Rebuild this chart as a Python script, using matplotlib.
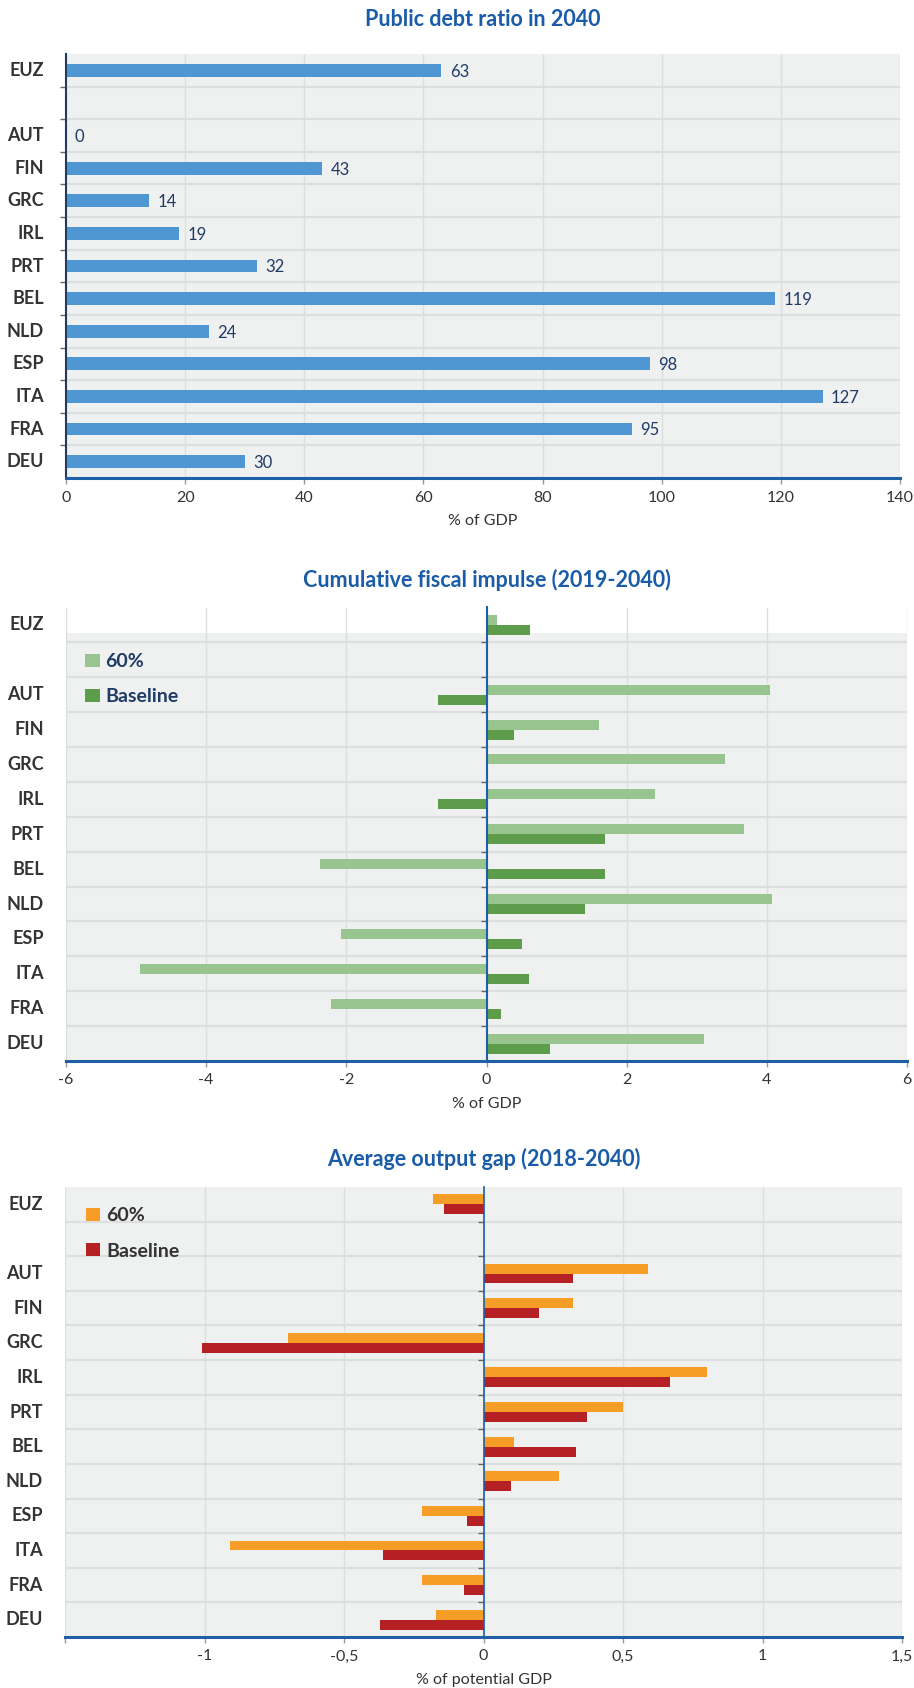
import matplotlib
matplotlib.use('Agg')
import matplotlib.pyplot as plt
import numpy as np
from matplotlib.transforms import blended_transform_factory

plt.rcParams['font.family'] = ['Lato', 'DejaVu Sans']
plt.rcParams['axes.unicode_minus'] = False

# ---------------- data ----------------
countries = ['EUZ', 'AUT', 'FIN', 'GRC', 'IRL', 'PRT', 'BEL', 'NLD', 'ESP', 'ITA', 'FRA', 'DEU']
debt_2040 = [63, 0, 43, 14, 19, 32, 119, 24, 98, 127, 95, 30]
impulse_60 = [0.15, 4.04, 1.61, 3.41, 2.40, 3.68, -2.37, 4.08, -2.08, -4.94, -2.22, 3.11]
impulse_base = [0.62, -0.69, 0.39, 0.0, -0.69, 1.69, 1.69, 1.40, 0.51, 0.60, 0.21, 0.90]
gap_60 = [-0.18, 0.59, 0.32, -0.70, 0.80, 0.50, 0.11, 0.27, -0.22, -0.91, -0.22, -0.17]
gap_base = [-0.14, 0.32, 0.20, -1.01, 0.67, 0.37, 0.33, 0.10, -0.06, -0.36, -0.07, -0.37]
series_labels = ['60%', 'Baseline']

titles = ['Public debt ratio in 2040',
          'Cumulative fiscal impulse (2019-2040)',
          'Average output gap (2018-2040)']
xlabels = ['% of GDP', '% of GDP', '% of potential GDP']
xticks_top = [0, 20, 40, 60, 80, 100, 120, 140]
xticks_mid = [-6, -4, -2, 0, 2, 4, 6]
xticks_bot = [-1.5, -1, -0.5, 0, 0.5, 1, 1.5]
xticklabels_bot = ['', '-1', '-0,5', '0', '0,5', '1', '1,5']

# row positions: EUZ, a blank row, then the countries
pos = np.array([0] + list(range(2, 13)))
bounds = np.arange(0.5, 12.5, 1.0)

BG = '#eff1f0'
GRID = '#dddfde'
AXBLUE = '#1f5fa6'
NAVY = '#1f3b66'
TXT = '#333333'

W, H = 914, 1688
fig = plt.figure(figsize=(W / 100, H / 100), dpi=100)

def px_axes(l, r, t, b):
    return fig.add_axes([l / W, 1 - b / H, (r - l) / W, (b - t) / H])

ax1 = px_axes(66, 900, 54, 478)
ax2 = px_axes(66, 907, 607.5, 1061)
ax3 = px_axes(65, 902, 1187, 1637)

def style(ax, xlim, xticks, xticklabels, xlabel, spine_color_left):
    ax.set_facecolor(BG)
    ax.set_axisbelow(True)
    ax.set_xlim(*xlim)
    ax.set_ylim(12.5, -0.5)
    ax.set_xticks(xticks)
    ax.set_xticklabels(xticklabels, fontsize=11.5, color=TXT)
    ax.set_yticks([])
    ax.set_yticks(bounds, minor=True)
    ax.tick_params(axis='y', which='minor', length=4, width=1, color='#666666', direction='out')
    ax.tick_params(axis='x', which='major', length=4, width=1, color='#999999', pad=5)
    ax.grid(axis='x', which='major', color=GRID, lw=1)
    ax.grid(axis='y', which='minor', color=GRID, lw=1.6)
    for s in ['top', 'right']:
        ax.spines[s].set_visible(False)
    ax.spines['left'].set_position(('data', 0))
    ax.spines['left'].set_color(spine_color_left)
    ax.spines['left'].set_linewidth(1.5)
    ax.spines['left'].set_zorder(3)
    ax.spines['bottom'].set_color(AXBLUE)
    ax.spines['bottom'].set_linewidth(2.2)
    ax.spines['bottom'].set_zorder(4)
    ax.set_xlabel(xlabel, fontsize=11.5, color=TXT, labelpad=7)
    tr = blended_transform_factory(ax.transAxes, ax.transData)
    for c, p in zip(countries, pos):
        ax.text(-0.0264, p, c, transform=tr, ha='right', va='center',
                fontsize=13, fontweight='bold', color=TXT)

# ---------- chart 1 ----------
style(ax1, (0, 140), xticks_top, [str(t) for t in xticks_top], xlabels[0], NAVY)
ax1.barh(pos, debt_2040, height=0.39, color='#4f97d3', zorder=2)
for v, p in zip(debt_2040, pos):
    ax1.annotate(str(v), (v, p), xytext=(6, -1), textcoords='offset points',
                 ha='left', va='center', fontsize=12, color=NAVY)

# ---------- chart 2 ----------
style(ax2, (-6, 6), xticks_mid, [str(t) for t in xticks_mid], xlabels[1], AXBLUE)
ax2.axhspan(-0.5, 0.23, color='white', zorder=0.2, lw=0)
bh = 0.287
ax2.barh(pos - bh / 2, impulse_60, height=bh, color='#97c48f', zorder=2, label=series_labels[0])
ax2.barh(pos + bh / 2, impulse_base, height=bh, color='#5c9c4a', zorder=2, label=series_labels[1])
leg2 = ax2.legend(loc='upper left', bbox_to_anchor=(0.0226, 0.900), frameon=False,
                  borderaxespad=0, borderpad=0, handlelength=0.75, handleheight=0.65,
                  handletextpad=0.3, labelspacing=0.95,
                  prop={'size': 14, 'weight': 'bold'}, labelcolor=NAVY)

# ---------- chart 3 ----------
style(ax3, (-1.5, 1.5), xticks_bot, xticklabels_bot, xlabels[2], AXBLUE)
ax3.spines['left'].set_linewidth(1.2)
ax3.barh(pos - bh / 2, gap_60, height=bh, color='#f69d27', zorder=2, label=series_labels[0])
ax3.barh(pos + bh / 2, gap_base, height=bh, color='#b52025', zorder=2, label=series_labels[1])
leg3 = ax3.legend(loc='upper left', bbox_to_anchor=(0.0245, 0.955), frameon=False,
                  borderaxespad=0, borderpad=0, handlelength=0.75, handleheight=0.65,
                  handletextpad=0.3, labelspacing=0.95,
                  prop={'size': 14, 'weight': 'bold'}, labelcolor=TXT)

# ---------- titles ----------
for ax, t, ypx in zip([ax1, ax2, ax3], titles, [20, 580, 1159]):
    bb = ax.get_position()
    fig.text((bb.x0 + bb.x1) / 2, 1 - ypx / H, t, ha='center', va='center',
             fontsize=15.5, fontweight='bold', color='#1a5ca8')

fig.savefig('out.png', dpi=100)
